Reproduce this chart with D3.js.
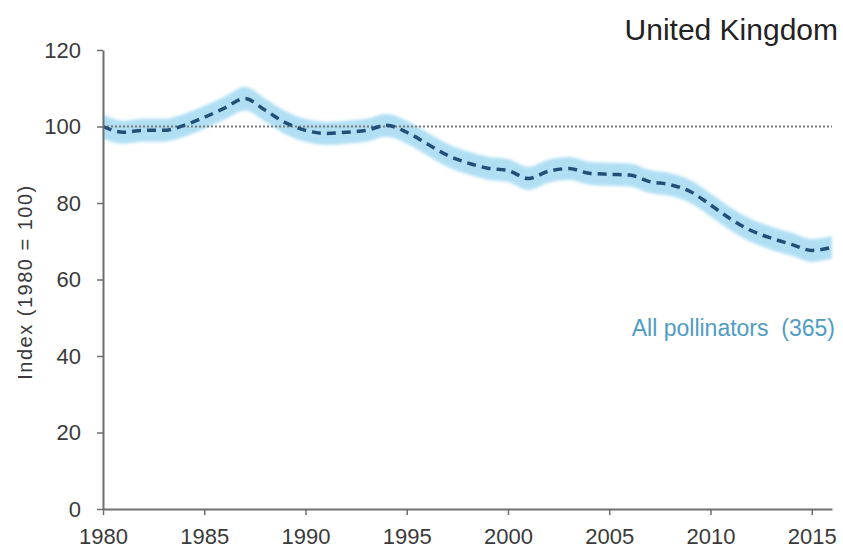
<!DOCTYPE html>
<html>
<head>
<meta charset="utf-8">
<script src="https://cdn.jsdelivr.net/npm/d3@7/dist/d3.min.js"></script>
<style>
  body { margin: 0; background: #fff; }
  text { font-family: "Liberation Sans", Arial, sans-serif; }
</style>
</head>
<body>
<svg id="chart" width="843" height="551"></svg>
<script>
// Pollinator occupancy index, United Kingdom (1980 = 100)
const years = [1980, 1981, 1982, 1983, 1984, 1985, 1986, 1987, 1988, 1989,
               1990, 1991, 1992, 1993, 1994, 1995, 1996, 1997, 1998, 1999,
               2000, 2001, 2002, 2003, 2004, 2005, 2006, 2007, 2008, 2009,
               2010, 2011, 2012, 2013, 2014, 2015, 2016];
const indexValues = [100, 98.5, 99, 99, 100.3, 102.4, 104.8, 107.3, 104.3, 101,
                     99, 98.2, 98.5, 99, 100.3, 98.5, 95.5, 92.5, 90.5, 89.1,
                     88.5, 86.4, 88.3, 89, 87.8, 87.5, 87.3, 85.6, 84.8, 83,
                     79.5, 75.8, 72.8, 70.8, 69.2, 67.6, 68.4];
const lowerCI = [96.8, 95.5, 96, 96, 97.3, 99.4, 101.8, 104.2, 101.3, 98,
                 96, 95.2, 95.5, 96, 97.3, 95.5, 92.5, 89.5, 87.5, 86.1,
                 85.5, 83.4, 85.3, 86, 84.8, 84.5, 84.3, 82.6, 81.8, 80,
                 76.5, 72.8, 69.8, 67.8, 66.2, 64.6, 65.4];
const upperCI = [103.2, 101.5, 102, 102, 103.3, 105.4, 107.8, 110.4, 107.3, 104,
                 102, 101.2, 101.5, 102, 103.3, 101.5, 98.5, 95.5, 93.5, 92.1,
                 91.5, 89.4, 91.3, 92, 90.8, 90.5, 90.3, 88.6, 87.8, 86,
                 82.5, 78.8, 75.8, 73.8, 72.2, 70.6, 71.4];
const xTicks = [1980, 1985, 1990, 1995, 2000, 2005, 2010, 2015];
const yTicks = [0, 20, 40, 60, 80, 100, 120];
const baseline = 100;
const title = "United Kingdom";
const seriesLabel = "All pollinators  (365)";
const yLabel = "Index (1980 = 100)";

const svg = d3.select("#chart");
const plot = { left: 103, right: 832, top: 50, bottom: 509 };

const x = d3.scaleLinear().domain([1980, 2016]).range([plot.left, plot.right]);
const y = d3.scaleLinear().domain([0, 120]).range([plot.bottom, plot.top]);

const rows = years.map((yr, i) => ({ yr, v: indexValues[i], lo: lowerCI[i], hi: upperCI[i] }));

const defs = svg.append("defs");
defs.append("filter").attr("id", "soft")
  .attr("x", "-5%").attr("y", "-20%").attr("width", "110%").attr("height", "140%")
  .append("feGaussianBlur").attr("stdDeviation", 1.8);

// Confidence band
svg.append("path")
  .datum(rows)
  .attr("d", d3.area().curve(d3.curveMonotoneX)
    .x(d => x(d.yr)).y0(d => y(d.lo)).y1(d => y(d.hi)))
  .attr("fill", "#b0dff4")
  .attr("filter", "url(#soft)");

// Reference line at 100
svg.append("line")
  .attr("x1", plot.left).attr("x2", plot.right)
  .attr("y1", y(baseline)).attr("y2", y(baseline))
  .attr("stroke", "#7a7a7a").attr("stroke-width", 2)
  .attr("stroke-dasharray", "2,2");

// Index trend line
svg.append("path")
  .datum(rows)
  .attr("d", d3.line().curve(d3.curveMonotoneX).x(d => x(d.yr)).y(d => y(d.v)))
  .attr("fill", "none")
  .attr("stroke", "#224f77")
  .attr("stroke-width", 3.5)
  .attr("stroke-dasharray", "9,6");

// Axes
const axisColor = "#6e6e6e";
const yAxis = svg.append("g")
  .attr("transform", `translate(${plot.left},0)`)
  .call(d3.axisLeft(y).tickValues(yTicks).tickSize(6).tickPadding(16).tickSizeOuter(0));
const xAxis = svg.append("g")
  .attr("transform", `translate(0,${plot.bottom})`)
  .call(d3.axisBottom(x).tickValues(xTicks).tickFormat(d3.format("d")).tickSize(6).tickPadding(13).tickSizeOuter(0));

[yAxis, xAxis].forEach(g => {
  g.select(".domain").attr("stroke", axisColor).attr("stroke-width", 2);
  g.selectAll(".tick line").attr("stroke", axisColor).attr("stroke-width", 1.5);
  g.selectAll(".tick text")
    .attr("fill", "#3a3a3a")
    .style("font-size", "22px")
    .style("font-family", "'Liberation Sans', Arial, sans-serif");
});

// Labels
svg.append("text")
  .attr("x", 838).attr("y", 40)
  .attr("text-anchor", "end")
  .attr("fill", "#222")
  .style("font-size", "30px")
  .text(title);

svg.append("text")
  .attr("x", 835).attr("y", 336)
  .attr("text-anchor", "end")
  .attr("fill", "#4f9cc4")
  .style("font-size", "23px")
  .style("white-space", "pre")
  .text(seriesLabel);

svg.append("text")
  .attr("transform", `translate(32,282) rotate(-90)`)
  .attr("text-anchor", "middle")
  .attr("fill", "#3a3a3a")
  .style("font-size", "20px")
  .style("letter-spacing", "1.5px")
  .text(yLabel);
</script>
</body>
</html>
